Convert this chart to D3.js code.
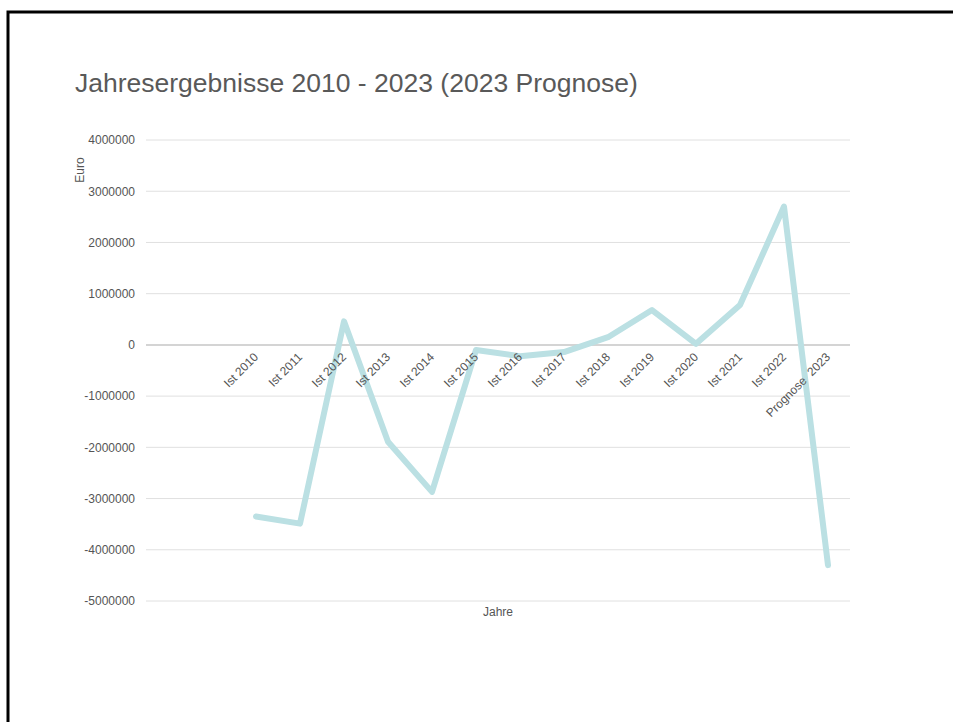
<!DOCTYPE html>
<html lang="de">
<head>
<meta charset="utf-8">
<title>Jahresergebnisse 2010 - 2023</title>
<script src="https://d3js.org/d3.v7.min.js"></script>
<style>
  body { margin: 0; background: #fff; }
  text { font-family: Arial, "Liberation Sans", sans-serif; }
  .grid line { stroke: #e0e0e0; stroke-width: 1; }
  .grid .zero line { stroke: #d4d4d4; stroke-width: 2; }
</style>
</head>
<body>
<div id="chart"></div>
<script>
// data
var years = ["Ist 2010", "Ist 2011", "Ist 2012", "Ist 2013", "Ist 2014", "Ist 2015", "Ist 2016",
             "Ist 2017", "Ist 2018", "Ist 2019", "Ist 2020", "Ist 2021", "Ist 2022", "Prognose  2023"]
var ergebnis = [-3350000, -3490000, 460000, -1890000, -2870000, -100000, -220000,
                -140000, 150000, 680000, 20000, 780000, 2700000, -4300000]
var yTicks = [4000000, 3000000, 2000000, 1000000, 0, -1000000, -2000000, -3000000, -4000000, -5000000]

var w = 953
var h = 722
var plotLeft = 146, plotRight = 850, plotTop = 140, plotBottom = 601

var svg = d3.select("#chart")
  .append("svg")
  .attr("width", w)
  .attr("height", h)

// frame
svg.append("rect")
  .attr("x", 8).attr("y", 12)
  .attr("width", 1000).attr("height", 800)
  .style("fill", "none")
  .style("stroke", "#000")
  .style("stroke-width", 3)

svg.append("text")
  .attr("x", 75).attr("y", 92)
  .style("font-size", "26.5px")
  .style("fill", "#595959")
  .text("Jahresergebnisse 2010 - 2023 (2023 Prognose)")

// two empty slots sit before the first year
var step = (plotRight - plotLeft) / (years.length + 2)
var xScale = d3.scaleBand()
  .domain(years)
  .range([plotLeft + 2 * step, plotRight])
  .padding(0)

var yScale = d3.scaleLinear()
  .domain([-5000000, 4000000])
  .range([plotBottom, plotTop])

var xc = function(d) { return xScale(d) + xScale.bandwidth() / 2 }

// gridlines
var grid = svg.append("g").attr("class", "grid")
grid.selectAll("g")
  .data(yTicks)
  .enter()
  .append("g")
  .attr("class", function(d) { return d === 0 ? "zero" : "" })
  .append("line")
  .attr("x1", plotLeft).attr("x2", plotRight)
  .attr("y1", function(d) { return yScale(d) })
  .attr("y2", function(d) { return yScale(d) })

var yAxis = d3.axisLeft(yScale)
  .tickValues(yTicks)
  .tickFormat(function(d) { return String(d) })
  .tickSize(0)
  .tickPadding(11)

svg.append("g")
  .attr("transform", "translate(" + plotLeft + ",0)")
  .call(yAxis)
  .call(function(g) { g.select(".domain").remove() })
  .selectAll("text")
  .style("font-size", "12px")
  .style("font-family", "Arial, 'Liberation Sans', sans-serif")
  .style("fill", "#555")

var line = d3.line()
  .x(function(d, i) { return xc(years[i]) })
  .y(function(d) { return yScale(d) })

svg.append("path")
  .datum(ergebnis)
  .attr("d", line)
  .style("fill", "none")
  .style("stroke", "#bbe0e3")
  .style("stroke-width", 6)
  .style("stroke-linejoin", "round")
  .style("stroke-linecap", "round")

// category labels hang under the zero line, drawn over the line
svg.append("g")
  .selectAll("text")
  .data(years)
  .enter()
  .append("text")
  .attr("transform", function(d) {
    return "translate(" + (xc(d) + 3) + "," + (yScale(0) + 13) + ") rotate(-45)"
  })
  .style("text-anchor", "end")
  .style("font-size", "12px")
  .style("fill", "#555")
  .style("white-space", "pre")
  .text(function(d) { return d })

svg.append("text")
  .attr("transform", "translate(84,170) rotate(-90)")
  .style("text-anchor", "middle")
  .style("font-size", "12px")
  .style("fill", "#555")
  .text("Euro")

svg.append("text")
  .attr("x", (plotLeft + plotRight) / 2)
  .attr("y", 616)
  .style("text-anchor", "middle")
  .style("font-size", "12px")
  .style("fill", "#555")
  .text("Jahre")
</script>
</body>
</html>
